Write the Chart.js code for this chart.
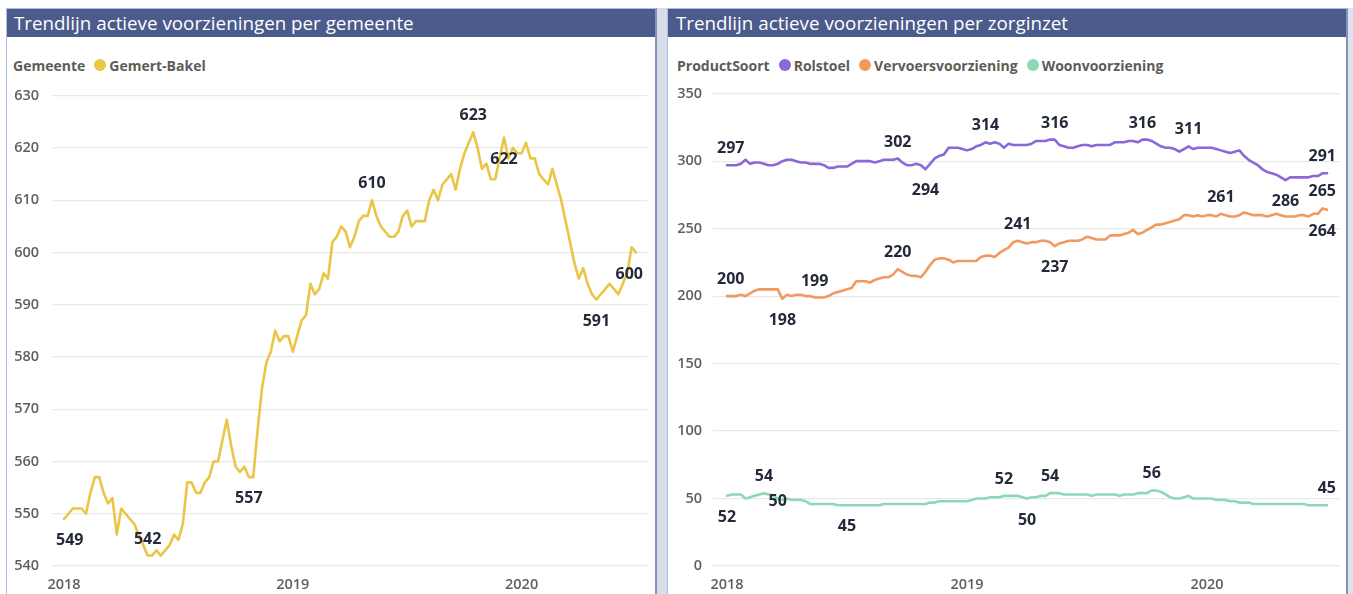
<!DOCTYPE html>
<html lang="nl">
<head>
<meta charset="utf-8">
<title>Trendlijn actieve voorzieningen</title>
<script src="https://cdn.jsdelivr.net/npm/chart.js@4.4.1/dist/chart.umd.min.js"></script>
<style>
  html, body { margin: 0; padding: 0; }
  body { width: 1353px; height: 594px; position: relative; overflow: hidden; background: #fff;
         font-family: "Open Sans", "Noto Sans", sans-serif; }
  .frame { position: absolute; top: 8px; height: 600px; box-sizing: border-box; background: #fff;
           border-top: 1px solid #a9bfe3; border-left: 1px solid #a9bfe3; border-right: 2px solid #8493b9; }
  #frameLeft { left: 6px; width: 651px; }
  #frameRight { left: 667px; width: 681px; }
  .gutter { position: absolute; top: 8px; height: 600px; background: #d9dde9; }
  .title { position: absolute; top: 9px; height: 28px; line-height: 28px; background: #4b5b8b; color: #fff;
           font-size: 18.8px; white-space: nowrap; box-sizing: border-box; }
  #titleLeft { left: 7px; width: 648px; padding-left: 7px; }
  #titleRight { left: 668px; width: 678px; padding-left: 8px; }
  .legend { position: absolute; top: 55px; height: 20px; display: flex; align-items: center;
            font-size: 14px; font-weight: 700; color: #5d5b59; white-space: nowrap; }
  .legend .item { display: flex; align-items: center; margin-left: 9px; }
  .legend .dot { width: 12px; height: 12px; border-radius: 50%; margin-right: 3px; }
  #legendLeft { left: 13px; }
  #legendRight { left: 677px; }
  canvas { position: absolute; }
</style>
</head>
<body>
<div class="gutter" style="left:655px;width:13px"></div>
<div class="gutter" style="left:1347px;width:6px;background:#dde3ef"></div>
<div class="frame" id="frameLeft"></div>
<div class="frame" id="frameRight"></div>
<div class="title" id="titleLeft">Trendlijn actieve voorzieningen per gemeente</div>
<div class="title" id="titleRight">Trendlijn actieve voorzieningen per zorginzet</div>
<div class="legend" id="legendLeft"></div>
<div class="legend" id="legendRight"></div>
<canvas id="chartLeft" width="648" height="520" style="left:7px;top:74px"></canvas>
<canvas id="chartRight" width="679" height="520" style="left:668px;top:74px"></canvas>
<script>
// weekly counts, first week of 2018 up to the end of June 2020
const yearLabels = ['2018', '2019', '2020'];
const yearStartWeek = [0, 52, 104];

const gemeenteTitle = 'Gemeente';
const gemeenteNames = ['Gemert-Bakel'];
const gemertBakel = [
  549, 550, 551, 551, 551, 550, 554, 557, 557, 554,
  552, 553, 546, 551, 550, 549, 548, 546, 544, 542,
  542, 543, 542, 543, 544, 546, 545, 548, 556, 556,
  554, 554, 556, 557, 560, 560, 564, 568, 563, 559,
  558, 559, 557, 557, 566, 574, 579, 581, 585, 583,
  584, 584, 581, 584, 587, 588, 594, 592, 593, 596,
  595, 602, 603, 605, 604, 601, 603, 606, 607, 607,
  610, 607, 605, 604, 603, 603, 604, 607, 608, 605,
  606, 606, 606, 610, 612, 610, 613, 614, 615, 612,
  616, 619, 621, 623, 620, 616, 617, 614, 614, 618,
  622, 618, 620, 619, 619, 621, 618, 618, 615, 614,
  613, 616, 613, 610, 606, 602, 598, 595, 597, 594,
  592, 591, 592, 593, 594, 593, 592, 594, 596, 601,
  600
];
const gemeenteTicks = [540, 550, 560, 570, 580, 590, 600, 610, 620, 630];

const productTitle = 'ProductSoort';
const productNames = ['Rolstoel', 'Vervoersvoorziening', 'Woonvoorziening'];
const rolstoel = [
  297, 297, 297, 298, 301, 298, 299, 299, 298, 297,
  297, 298, 300, 301, 301, 300, 299, 299, 298, 298,
  298, 297, 295, 295, 296, 296, 296, 298, 300, 300,
  300, 300, 299, 300, 301, 301, 301, 302, 299, 297,
  297, 298, 297, 294, 298, 302, 304, 305, 310, 310,
  310, 309, 308, 309, 311, 312, 314, 313, 314, 313,
  310, 313, 312, 312, 312, 312, 313, 315, 315, 315,
  316, 316, 312, 311, 310, 310, 311, 312, 312, 311,
  312, 312, 312, 312, 314, 314, 314, 315, 315, 314,
  316, 316, 315, 313, 311, 310, 310, 309, 307, 309,
  311, 309, 310, 310, 310, 310, 309, 308, 307, 306,
  307, 308, 304, 301, 299, 297, 294, 292, 291, 290,
  288, 286, 288, 288, 288, 288, 288, 289, 289, 291,
  291
];
const vervoersvoorziening = [
  200, 200, 200, 201, 200, 202, 204, 205, 205, 205,
  205, 205, 198, 201, 200, 201, 201, 200, 200, 199,
  199, 199, 200, 202, 203, 204, 205, 206, 211, 211,
  211, 210, 212, 213, 214, 214, 216, 220, 218, 216,
  215, 215, 214, 218, 223, 227, 228, 228, 227, 225,
  226, 226, 226, 226, 226, 229, 230, 230, 229, 232,
  234, 236, 240, 241, 240, 239, 240, 240, 241, 241,
  240, 237, 239, 240, 241, 241, 241, 242, 244, 243,
  242, 242, 242, 245, 245, 245, 246, 247, 249, 246,
  247, 249, 251, 253, 253, 254, 255, 256, 257, 260,
  260, 259, 260, 259, 260, 260, 259, 261, 260, 259,
  259, 260, 262, 261, 260, 260, 260, 259, 260, 261,
  260, 259, 259, 259, 260, 260, 259, 261, 261, 265,
  264
];
const woonvoorziening = [
  52, 53, 53, 53, 50, 51, 52, 53, 54, 53,
  52, 50, 49, 50, 49, 49, 49, 48, 46, 46,
  46, 46, 46, 46, 45, 45, 45, 45, 45, 45,
  45, 45, 45, 45, 46, 46, 46, 46, 46, 46,
  46, 46, 46, 46, 47, 47, 48, 48, 48, 48,
  48, 48, 48, 49, 50, 50, 50, 51, 51, 51,
  52, 52, 52, 52, 51, 50, 51, 51, 52, 52,
  54, 54, 54, 53, 53, 53, 53, 53, 53, 52,
  53, 53, 53, 53, 53, 52, 53, 53, 53, 54,
  54, 54, 56, 56, 55, 53, 51, 50, 50, 51,
  52, 50, 50, 50, 50, 50, 49, 49, 49, 48,
  48, 47, 47, 47, 46, 46, 46, 46, 46, 46,
  46, 46, 46, 46, 46, 46, 45, 45, 45, 45,
  45
];
const productTicks = [0, 50, 100, 150, 200, 250, 300, 350];

// which weeks carry a value label, and on which side of the line
const gemertBakelLabels = [[0, 'below'], [19, 'above'], [42, 'below'], [70, 'above'], [93, 'above'], [100, 'below'], [121, 'below'], [130, 'below']];
const rolstoelLabels = [[0, 'above'], [37, 'above'], [43, 'below'], [56, 'above'], [71, 'above'], [90, 'above'], [100, 'above'], [121, 'below'], [130, 'above']];
const vervoersLabels = [[0, 'above'], [12, 'below'], [19, 'above'], [37, 'above'], [63, 'above'], [71, 'below'], [107, 'above'], [129, 'above'], [130, 'below']];
const woonLabels = [[0, 'below'], [8, 'above'], [11, 'on'], [26, 'below'], [60, 'above'], [65, 'below'], [70, 'above'], [92, 'above'], [130, 'above']];

const colors = {
    gemertBakel: '#ebc545',
    rolstoel: '#8a68d8',
    vervoers: '#f19a5f',
    woon: '#8dd9b5'
};

const axisFont = { family: '"Open Sans", sans-serif', size: 14.5, weight: '600' };
const axisColor = '#615f5d';

// draws the value labels next to the chosen points
const pointLabels = {
    id: 'pointLabels',
    afterDatasetsDraw(chart) {
        const { ctx, chartArea } = chart;
        ctx.save();
        ctx.font = '700 16px "Open Sans", sans-serif';
        ctx.fillStyle = '#252a3b';
        ctx.textAlign = 'center';
        ctx.textBaseline = 'middle';
        chart.data.datasets.forEach((ds, di) => {
            const meta = chart.getDatasetMeta(di);
            (ds.labelAt || []).forEach(([i, side]) => {
                const pt = meta.data[i];
                const text = String(ds.data[i].y);
                const half = ctx.measureText(text).width / 2;
                const x = Math.max(chartArea.left + 4 + half, Math.min(chartArea.right - 4 - half, pt.x));
                const dy = side === 'above' ? -16.5 : side === 'below' ? 21.5 : 3;
                ctx.fillText(text, x, pt.y + dy);
            });
        });
        ctx.restore();
    }
};

function buildLegend(el, title, names, swatches) {
    el.innerHTML = `<span>${title}</span>` + names.map((n, k) =>
        `<span class="item"><span class="dot" style="background:${swatches[k]}"></span>${n}</span>`
    ).join('');
}

function lineChart(canvasId, series, yTicks, xRange, axisWidth, tickPad, padRight) {
    return new Chart(document.getElementById(canvasId), {
        type: 'line',
        data: {
            datasets: series.map(s => ({
                label: s.name,
                data: s.values.map((v, i) => ({ x: i, y: v })),
                borderColor: s.color,
                backgroundColor: s.color,
                borderWidth: 2.6,
                borderJoinStyle: 'round',
                borderCapStyle: 'round',
                pointRadius: 0,
                tension: 0,
                labelAt: s.labels
            }))
        },
        options: {
            responsive: false,
            animation: false,
            layout: { padding: { top: 15, right: padRight, left: 0, bottom: 0 } },
            plugins: { legend: { display: false }, tooltip: { enabled: false } },
            scales: {
                x: {
                    type: 'linear',
                    min: xRange[0],
                    max: xRange[1],
                    grid: { display: false },
                    border: { display: false },
                    afterBuildTicks: s => { s.ticks = yearStartWeek.map(v => ({ value: v })); },
                    afterFit: s => { s.height = 28; },
                    ticks: {
                        callback: v => yearLabels[yearStartWeek.indexOf(v)],
                        autoSkip: false,
                        maxRotation: 0,
                        padding: 2,
                        color: axisColor,
                        font: axisFont
                    }
                },
                y: {
                    min: yTicks[0],
                    max: yTicks[yTicks.length - 1],
                    afterBuildTicks: s => { s.ticks = yTicks.map(v => ({ value: v })); },
                    afterFit: s => { s.width = axisWidth; },
                    grid: { color: '#e9e9e9', lineWidth: 1.2, drawTicks: false },
                    border: { display: false },
                    ticks: { padding: tickPad, color: axisColor, font: axisFont }
                }
            }
        },
        plugins: [pointLabels]
    });
}

buildLegend(document.getElementById('legendLeft'), gemeenteTitle, gemeenteNames, [colors.gemertBakel]);
buildLegend(document.getElementById('legendRight'), productTitle, productNames,
    [colors.rolstoel, colors.vervoers, colors.woon]);

lineChart('chartLeft', [
    { name: gemeenteNames[0], values: gemertBakel, color: colors.gemertBakel, labels: gemertBakelLabels }
], gemeenteTicks, [-2.73, 132.5], 45, 13, 8);

lineChart('chartRight', [
    { name: productNames[0], values: rolstoel, color: colors.rolstoel, labels: rolstoelLabels },
    { name: productNames[1], values: vervoersvoorziening, color: colors.vervoers, labels: vervoersLabels },
    { name: productNames[2], values: woonvoorziening, color: colors.woon, labels: woonLabels }
], productTicks, [-3.03, 132.8], 45, 11, 7);
</script>
</body>
</html>
